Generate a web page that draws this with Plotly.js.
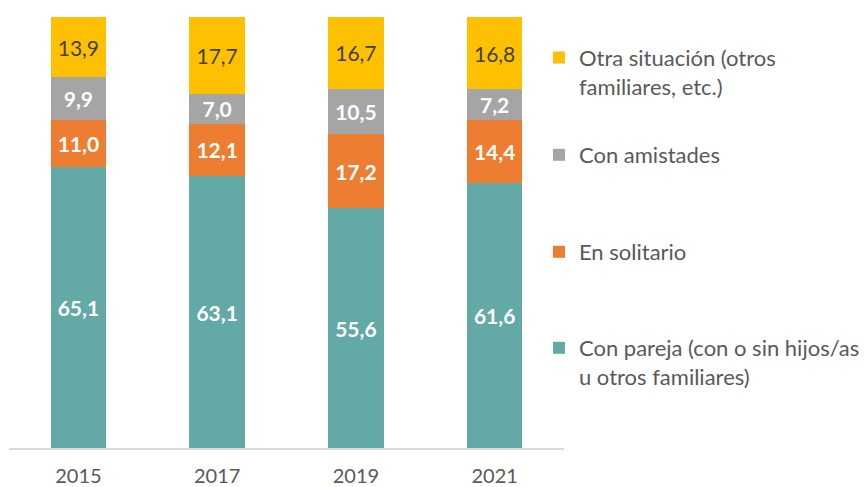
<!DOCTYPE html>
<html>
<head>
<meta charset="utf-8">
<script src="https://cdn.plot.ly/plotly-3.0.1.min.js"></script>
<style>html,body{margin:0;padding:0;background:#fff;}#chart{width:864px;height:487px;}</style>
</head>
<body>
<div id="chart"></div>
<script>
var years = ['2015', '2017', '2019', '2021'];
var conPareja = [65.1, 63.1, 55.6, 61.6];
var enSolitario = [11.0, 12.1, 17.2, 14.4];
var conAmistades = [9.9, 7.0, 10.5, 7.2];
var otraSituacion = [13.9, 17.7, 16.7, 16.8];
var seriesNames = [
  'Con pareja (con o sin hijos/as<br>u otros familiares)',
  'En solitario',
  'Con amistades',
  'Otra situación (otros<br>familiares, etc.)'
];
var colors = ['#63A9A6', '#ED7D31', '#A5A5A5', '#FFC000'];

var FONT = 'Lato, "Open Sans", sans-serif';

function mk(vals, i, legendId, textColor, bold) {
  return {
    type: 'bar',
    x: years,
    y: vals,
    name: seriesNames[i],
    legend: legendId,
    marker: {color: colors[i], line: {width: 0}},
    texttemplate: bold ? '<b>%{y:.1f}</b>' : '%{y:.1f}',
    textposition: 'inside',
    insidetextanchor: 'middle',
    textangle: 0,
    constraintext: 'none',
    textfont: {family: FONT, size: 21, color: textColor},
    hoverinfo: 'skip'
  };
}

var data = [
  mk(conPareja, 0, 'legend4', '#FFFFFF', true),
  mk(enSolitario, 1, 'legend3', '#FFFFFF', true),
  mk(conAmistades, 2, 'legend2', '#FFFFFF', true),
  mk(otraSituacion, 3, 'legend', '#404040', false)
];

function leg(y) {
  return {
    xref: 'container', yref: 'container',
    x: 0.6238, xanchor: 'left',
    y: y, yanchor: 'top',
    valign: 'top',
    bgcolor: 'rgba(0,0,0,0)',
    font: {family: FONT, size: 22, color: '#595959'},
    itemclick: false, itemdoubleclick: false
  };
}

var layout = {
  width: 864, height: 487,
  margin: {l: 9, r: 300, t: 17, b: 39, pad: 0, autoexpand: false},
  paper_bgcolor: '#FFFFFF', plot_bgcolor: '#FFFFFF',
  barmode: 'stack',
  bargap: 0.6,
  separators: ',.',
  uniformtext: {mode: false},
  xaxis: {
    type: 'category',
    showline: true, linecolor: '#D9D9D9', linewidth: 1.5,
    ticks: 'outside', ticklen: 9, tickcolor: 'rgba(0,0,0,0)',
    tickfont: {family: FONT, size: 20, color: '#595959'},
    showgrid: false, zeroline: false, fixedrange: true
  },
  yaxis: {
    range: [0, 100], visible: false, showgrid: false, zeroline: false, fixedrange: true
  },
  showlegend: true,
  legend: leg(0.9244),
  legend2: leg(0.7248),
  legend3: leg(0.5257),
  legend4: leg(0.3285)
};

Plotly.newPlot('chart', data, layout, {displayModeBar: false, staticPlot: true});
</script>
</body>
</html>
